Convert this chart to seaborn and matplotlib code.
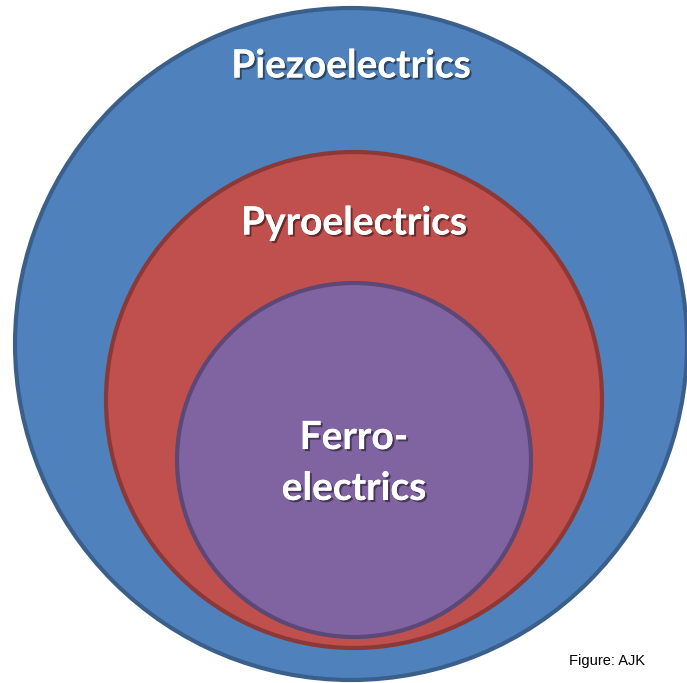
import matplotlib
matplotlib.use("Agg")
import matplotlib.pyplot as plt
import matplotlib.patheffects as pe
from matplotlib.patches import Circle
import seaborn as sns

# Data: nested sets (pixel-like coordinates of the reference layout)
labels = ["Piezoelectrics", "Pyroelectrics", "Ferro-\nelectrics"]
center_x = [351, 354, 354]
center_y = [344, 400, 460]
radius = [336, 248, 177]
label_y = [66, 223, 463]
fill_colors = ["#4F81BD", "#C0504D", "#8064A2"]
edge_colors = ["#3A5F8B", "#8C3836", "#5C4776"]
credit = "Figure: AJK"

sns.set_theme(style="white")
plt.rcParams["font.family"] = ["Lato", "DejaVu Sans"]

fig = plt.figure(figsize=(6.87, 6.83), dpi=100)
ax = fig.add_axes([0, 0, 1, 1])
ax.set_xlim(0, 687)
ax.set_ylim(683, 0)
ax.set_aspect("equal")
ax.axis("off")

for cx, cy, r, fc, ec in zip(center_x, center_y, radius, fill_colors, edge_colors):
    ax.add_patch(Circle((cx, cy), r, facecolor=fc, edgecolor=ec, linewidth=3.0))

shadow = [pe.withSimplePatchShadow(offset=(1.5, -1.5), shadow_rgbFace="black", alpha=0.45),
          pe.Normal()]
for lab, cx, ly in zip(labels, center_x, label_y):
    ax.text(cx, ly, lab, ha="center", va="center", color="white", fontsize=28,
            fontweight="bold", linespacing=1.55, path_effects=shadow)

ax.text(607, 661, credit, ha="center", va="center", color="black", fontsize=10.5,
        family=["Liberation Sans", "DejaVu Sans"])

fig.savefig("out.png", dpi=100)
